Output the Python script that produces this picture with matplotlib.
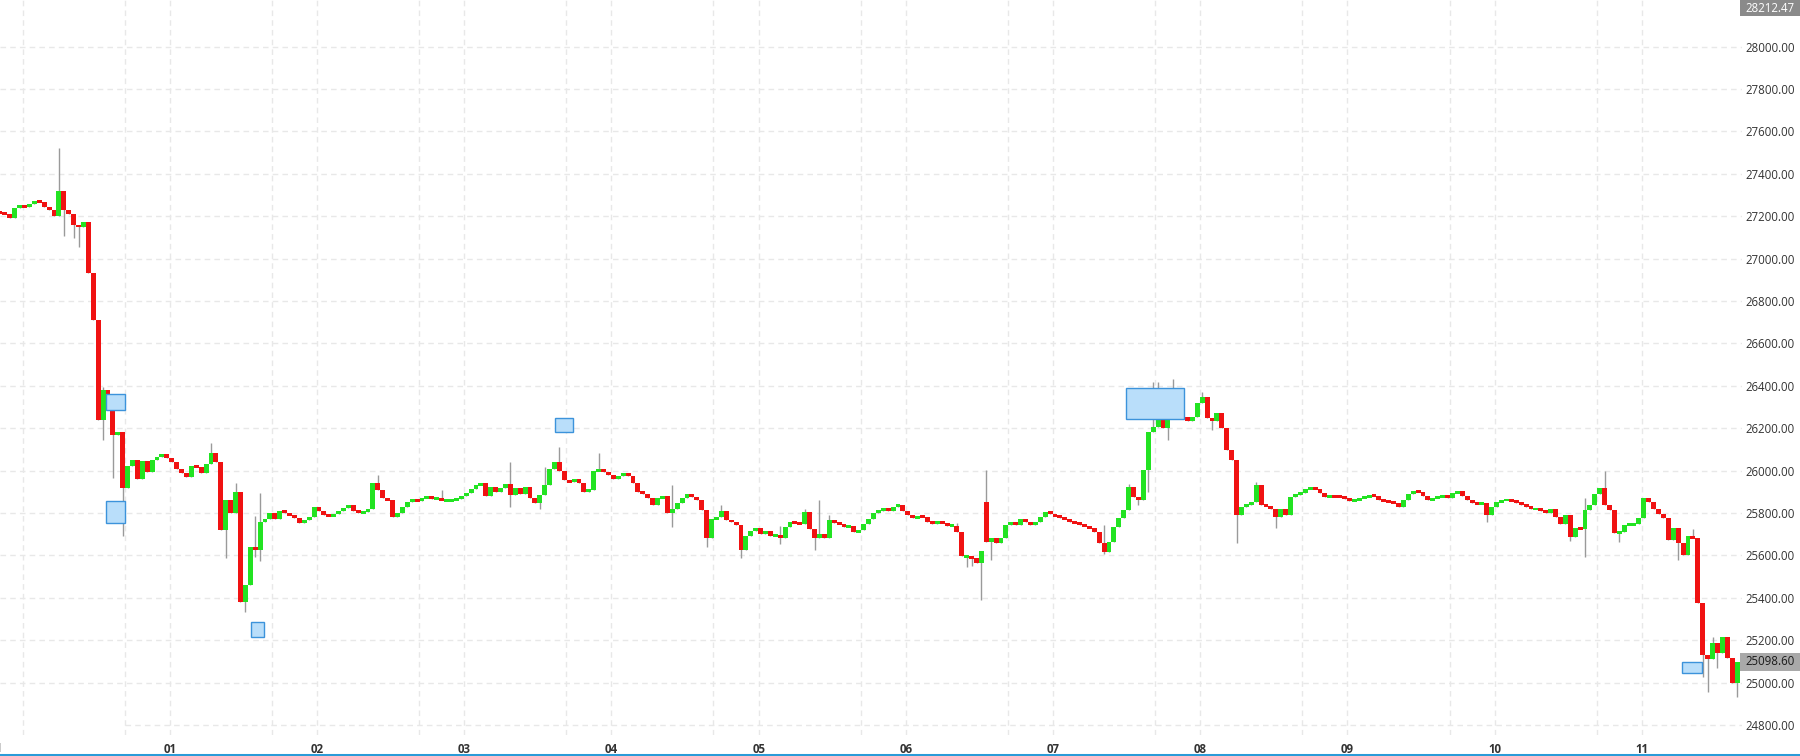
import matplotlib
matplotlib.use("Agg")
import matplotlib.pyplot as plt
from matplotlib.patches import Rectangle
from matplotlib.lines import Line2D
from matplotlib.transforms import blended_transform_factory
import numpy as np

# ---------------- data ----------------
first_open = 27220
close_a = [27215, 27210, 27190, 27240, 27250, 27245, 27260, 27272, 27265, 27245,
           27228, 27200, 27320, 27230, 27210, 27160, 27148, 27175, 26930, 26710,
           26240, 26380, 26295, 26170, 26180, 25920, 26020, 26050, 25960, 26045]
close_b = [25995, 26050, 26065, 26080, 26060, 26040, 26010, 25990, 25970, 26020,
           26015, 25990, 26030, 26085, 26040, 25720, 25860, 25800, 25900, 25380,
           25460, 25640, 25625, 25760, 25770, 25800, 25770, 25810, 25800, 25790]
close_c = [25775, 25755, 25765, 25780, 25830, 25810, 25790, 25785, 25795, 25810,
           25825, 25840, 25810, 25800, 25805, 25820, 25940, 25910, 25870, 25860,
           25780, 25800, 25830, 25850, 25865, 25855, 25870, 25880, 25865, 25870]
close_d = [25860, 25860, 25862, 25865, 25880, 25895, 25915, 25930, 25940, 25880,
           25925, 25900, 25920, 25935, 25885, 25920, 25890, 25925, 25870, 25845,
           25885, 25930, 26010, 26040, 26000, 25955, 25945, 25960, 25940, 25900]
close_e = [25910, 26000, 26005, 25995, 25980, 25960, 25975, 25985, 25975, 25940,
           25900, 25890, 25870, 25840, 25870, 25880, 25800, 25820, 25845, 25870,
           25890, 25875, 25860, 25815, 25682, 25770, 25780, 25810, 25765, 25760]
close_f = [25745, 25625, 25690, 25715, 25730, 25700, 25715, 25690, 25695, 25680,
           25736, 25760, 25755, 25750, 25807, 25725, 25682, 25700, 25682, 25767,
           25755, 25750, 25735, 25740, 25710, 25720, 25750, 25770, 25800, 25810]
close_g = [25825, 25810, 25830, 25840, 25810, 25790, 25775, 25785, 25780, 25760,
           25750, 25760, 25755, 25740, 25740, 25710, 25595, 25595, 25590, 25565,
           25620, 25665, 25680, 25660, 25680, 25745, 25760, 25745, 25770, 25760]
close_h = [25745, 25760, 25783, 25806, 25795, 25785, 25778, 25770, 25760, 25752,
           25745, 25738, 25730, 25710, 25660, 25618, 25665, 25736, 25775, 25815,
           25925, 25875, 25860, 26003, 26184, 26208, 26334, 26200, 26272, 26366]
close_i = [26302, 26255, 26232, 26255, 26318, 26349, 26248, 26232, 26272, 26200,
           26098, 26050, 25791, 25830, 25840, 25850, 25932, 25840, 25835, 25820,
           25783, 25820, 25790, 25877, 25885, 25895, 25913, 25918, 25913, 25895]
close_j = [25875, 25880, 25878, 25875, 25868, 25858, 25862, 25870, 25877, 25882,
           25880, 25860, 25857, 25853, 25845, 25830, 25860, 25890, 25905, 25900,
           25880, 25860, 25870, 25877, 25880, 25872, 25893, 25905, 25882, 25860]
close_k = [25848, 25845, 25848, 25790, 25830, 25853, 25860, 25863, 25858, 25848,
           25840, 25830, 25818, 25820, 25810, 25800, 25820, 25782, 25750, 25790,
           25689, 25730, 25725, 25815, 25840, 25888, 25920, 25838, 25815, 25705]
close_l = [25712, 25745, 25745, 25750, 25775, 25870, 25850, 25820, 25795, 25775,
           25673, 25730, 25660, 25600, 25690, 25680, 25375, 25130, 25110, 25187,
           25140, 25217, 25115, 25000, 25099]

open_override_idx = [201]
open_override_val = [25850]

high_idx = [12, 21, 43, 48, 52, 53, 77, 90, 104, 111, 114, 122, 137, 147, 159, 164,
            167, 169, 195, 201, 225, 230, 235, 236, 239, 245, 256, 323, 327, 345, 349]
high_val = [27524, 26395, 26130, 25940, 25785, 25893, 25980, 25908, 26042, 26019, 26113,
            26085, 25932, 25838, 25740, 25820, 25862, 25790, 25752, 26003, 25744, 25935,
            26420, 26420, 26430, 26370, 25945, 25870, 26000, 25725, 25215]
low_idx = [13, 15, 16, 21, 23, 25, 46, 50, 52, 53, 104, 110, 137, 144, 151, 159, 166,
           197, 198, 200, 202, 225, 232, 234, 238, 247, 252, 260, 303, 320, 323, 330,
           342, 347, 348, 350, 354]
low_val = [27107, 27098, 27057, 26145, 25965, 25690, 25590, 25335, 25594, 25575, 25830,
           25820, 25736, 25641, 25588, 25655, 25626, 25547, 25550, 25390, 25580, 25605,
           25840, 25900, 26145, 26190, 25659, 25730, 25760, 25670, 25594, 25665, 25579,
           25028, 24958, 25069, 24934]

day_labels = ["01", "02", "03", "04", "05", "06", "07", "08", "09", "10", "11"]
first_day_label = "31"
y_ticks = list(range(24800, 28001, 200))

# event markers (candle-index span, price span)
event_x0 = [21.7, 21.7, 51.1, 113.2, 229.5, 342.7]
event_x1 = [25.4, 25.4, 53.7, 116.8, 241.3, 346.8]
event_lo = [26286, 25755, 25215, 26183, 26244, 25047]
event_hi = [26360, 25857, 25286, 26249, 26390, 25099]

top_price = 28212.47
last_price = 25098.60

# ---------------- build OHLC ----------------
closes = np.array(close_a + close_b + close_c + close_d + close_e + close_f +
                  close_g + close_h + close_i + close_j + close_k + close_l, dtype=float)
n = len(closes)
opens = np.empty(n)
opens[0] = first_open
opens[1:] = closes[:-1]
for i, v in zip(open_override_idx, open_override_val):
    opens[i] = v
highs = np.maximum(opens, closes)
lows = np.minimum(opens, closes)
for i, v in zip(high_idx, high_val):
    highs[i] = max(highs[i], v)
for i, v in zip(low_idx, low_val):
    lows[i] = min(lows[i], v)
x = np.arange(n)

# ---------------- figure ----------------
W, H = 1800, 756
fig = plt.figure(figsize=(W / 100, H / 100), dpi=100)
fig.patch.set_facecolor("white")
ax_right_px, ax_bottom_px = 1742, 735
ax = fig.add_axes([0, (H - ax_bottom_px) / H, ax_right_px / W, ax_bottom_px / H])
ax.set_facecolor("white")
ax.set_xlim(0, 355)
ax.set_ylim(24753, 28220)

grid_col = "#e8e8e8"
for v in y_ticks:
    xmin = 125 / ax_right_px if v == y_ticks[0] else 0
    ax.axhline(v, xmin=xmin, color=grid_col, lw=1, ls=(0, (4, 3)), zorder=0)

per_day = 30
day_pos = [34.6 + per_day * d for d in range(len(day_labels))]
pre_day = [4.6] + day_pos
for p in pre_day:
    ax.axvline(p, color=grid_col, lw=1, ls=(0, (4, 3)), zorder=0)
    ax.axvline(p - 9.2, color=grid_col, lw=1, ls=(0, (4, 3)), zorder=0)

green, red = "#22e322", "#f01212"
up = closes >= opens
colors = np.where(up, green, red)
ax.vlines(x, lows, highs, color="#9a9a9a", lw=1, zorder=2)
min_h = 14
body_lo = np.minimum(opens, closes)
body_h = np.abs(closes - opens)
small = body_h < min_h
body_lo = np.where(small, (opens + closes) / 2 - min_h / 2, body_lo)
body_h = np.where(small, min_h, body_h)
ax.bar(x, body_h, bottom=body_lo, width=1.0, color=colors, edgecolor="none",
       linewidth=0, zorder=3)

for x0, x1, lo, hi in zip(event_x0, event_x1, event_lo, event_hi):
    ax.add_patch(Rectangle((x0, lo), x1 - x0, hi - lo, facecolor="#b9defa",
                           edgecolor="#3c93db", lw=1, zorder=4))

for s in ax.spines.values():
    s.set_visible(False)

tick_font = dict(family="Open Sans", size=8.3, color="#333333")
ax.yaxis.tick_right()
ax.set_yticks(y_ticks)
ax.set_yticklabels([f"{v:.2f}" for v in y_ticks], **tick_font)
ax.tick_params(axis="y", length=0, pad=2.5)

ax.set_xticks(day_pos)
ax.set_xticklabels(day_labels, family="Open Sans", size=8.3, color="#333333",
                   fontweight="bold")
ax.tick_params(axis="x", length=0, pad=6)
ax.text(-0.8, -13 / ax_bottom_px, first_day_label,
        transform=blended_transform_factory(ax.transData, ax.transAxes),
        ha="center", va="center", family="Open Sans", size=8.3, color="#333333",
        fontweight="bold", clip_on=False)

# price tags
bt = blended_transform_factory(fig.transFigure, ax.transData)
tag_h = 18 / 0.212
fig.add_artist(Rectangle((1740 / W, last_price - tag_h / 2), 60 / W, tag_h,
                         transform=bt, facecolor="#a9a9a9", edgecolor="none", zorder=5))
fig.text(1770 / W, last_price, f"{last_price:.2f}", transform=bt, ha="center",
         va="center", family="Open Sans", size=8.3, color="#1a1a1a", zorder=6)
ta = blended_transform_factory(fig.transFigure, fig.transFigure)
fig.add_artist(Rectangle((1740 / W, 1 - 16 / H), 60 / W, 16 / H, transform=ta,
                         facecolor="#8a8a8a", edgecolor="none", zorder=5))
fig.text(1770 / W, 1 - 8 / H, f"{top_price:.2f}", ha="center", va="center",
         family="Open Sans", size=8.3, color="white", zorder=6)

# bottom blue axis line
fig.add_artist(Line2D([0, 1], [1.5 / H, 1.5 / H], transform=fig.transFigure,
                      color="#2a9bd8", lw=2.2))

fig.savefig("out.png", dpi=100, facecolor="white")
